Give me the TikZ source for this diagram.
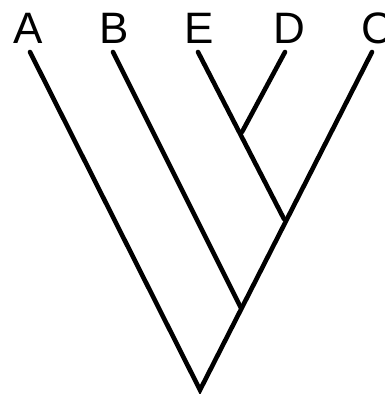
\documentclass[tikz,border=0pt]{standalone}
\usepackage{fontspec}
\setmainfont{Liberation Sans}
\begin{document}
\begin{tikzpicture}[x=1pt, y=-1pt, line width=4.6pt, line cap=round]
    \useasboundingbox (0,0) rectangle (385,394);
    % taxa
    \foreach \t/\x in {A/28, B/114, E/199, D/289, C/377}
      \node[anchor=base, inner sep=0pt, font=\fontsize{44}{44}\selectfont] (\t) at (\x,43) {\t};
    % branch tips and joints
    \coordinate (tA) at (30,52);
    \coordinate (tB) at (113,52);
    \coordinate (tE) at (198,52);
    \coordinate (tD) at (285,52);
    \coordinate (tC) at (372,52);
    \coordinate (root) at (200,390);
    \coordinate (jB) at (241,308);
    \coordinate (jED) at (242,132);
    \coordinate (jC) at (284,219);
    \draw (tA) -- (root) -- (tC);
    \draw (tB) -- (jB);
    \draw (tE) -- (jC);
    \draw (tD) -- (jED);
\end{tikzpicture}
\end{document}
